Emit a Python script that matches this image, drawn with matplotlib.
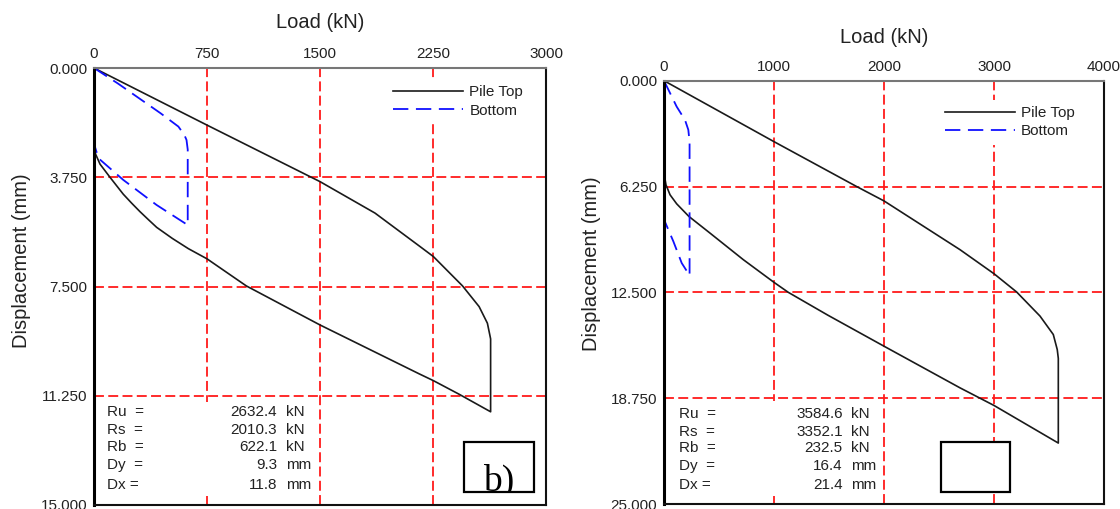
import matplotlib
matplotlib.use("Agg")
import matplotlib.pyplot as plt
from matplotlib.patches import Rectangle

plt.rcParams['font.family'] = ['Liberation Sans', 'DejaVu Sans']

# ---------------- data: panel b (left) ----------------
L_xticks = [0, 750, 1500, 2250, 3000]
L_yticks = [0.0, 3.75, 7.5, 11.25, 15.0]
L_top_load = [0, 750, 1500, 1865, 2159, 2252, 2446, 2556, 2611, 2627, 2632.4, 2632.4,
              2424, 2252, 2159, 1500, 1011, 750, 626, 520, 416, 360, 305, 250, 194, 106, 40, 10, 0]
L_top_disp = [0, 1.96, 3.9, 4.98, 6.11, 6.47, 7.48, 8.19, 8.76, 9.16, 9.3, 11.8,
              11.2, 10.73, 10.5, 8.82, 7.48, 6.55, 6.2, 5.85, 5.47, 5.2, 4.93, 4.64, 4.33, 3.75, 3.3, 2.95, 2.6]
L_bot_load = [0, 158, 441, 560, 600, 614, 622.1, 622.1, 415, 194, 30, 0]
L_bot_disp = [0, 0.53, 1.55, 2.01, 2.3, 2.47, 2.8, 5.39, 4.7, 3.84, 3.1, 2.6]
L_names = ["Ru  =", "Rs  =", "Rb  =", "Dy  =", "Dx ="]
L_vals = ["2632.4", "2010.3", "622.1", "9.3", "11.8"]
L_units = ["kN", "kN", "kN", "mm", "mm"]

# ---------------- data: right panel ----------------
R_xticks = [0, 1000, 2000, 3000, 4000]
R_yticks = [0.0, 6.25, 12.5, 18.75, 25.0]
R_top_load = [0, 1000, 1751, 2000, 2691, 3000, 3206, 3418, 3539, 3575, 3584.6, 3584.6,
              3000, 2691, 2000, 1490, 1130, 1000, 721, 418, 227, 115, 55, 18, 0]
R_top_disp = [0, 3.6, 6.25, 7.1, 9.98, 11.4, 12.48, 13.9, 14.99, 15.88, 16.4, 21.4,
              19.18, 18.14, 15.68, 13.85, 12.5, 11.91, 10.57, 9.0, 8.02, 7.27, 6.74, 6.15, 5.46]
R_bot_load = [0, 115, 191, 221, 232.5, 232.5, 161, 85, 0]
R_bot_disp = [0, 1.53, 2.32, 2.9, 3.6, 11.5, 10.77, 9.49, 8.2]
R_names = ["Ru  =", "Rs  =", "Rb  =", "Dy  =", "Dx ="]
R_vals = ["3584.6", "3352.1", "232.5", "16.4", "21.4"]
R_units = ["kN", "kN", "kN", "mm", "mm"]

fig = plt.figure(figsize=(11.2, 5.09), dpi=100)
W, H = 1120, 509


def make_axes(left, right, top, bottom):
    return fig.add_axes([left / W, 1 - bottom / H, (right - left) / W, (bottom - top) / H])


axL = make_axes(94, 546, 68, 505)
axR = make_axes(664, 1104, 80.7, 504)

GRID_RED = '#ff1a1a'
TXT = '#222222'


def setup(ax, xticks, yticks, top, load, disp, bload, bdisp,
          names, vals, units, row_y, lab_x, val_x, unit_x, box, ylab, title_y, btext, white_top):
    ax.set_xlim(xticks[0], xticks[-1])
    ax.set_ylim(yticks[-1], yticks[0])
    ax.xaxis.tick_top()
    ax.set_xticks(xticks)
    ax.set_xticklabels([str(t) for t in xticks])
    ax.set_yticks(yticks)
    ax.set_yticklabels(["%.3f" % t for t in yticks])
    ax.tick_params(length=0, labelsize=11, pad=5, colors=TXT)
    for t in xticks[1:-1]:
        ax.axvline(t, color=GRID_RED, lw=1.3, dashes=(5.5, 2.4), zorder=1)
    for t in yticks[1:-1]:
        ax.axhline(t, color=GRID_RED, lw=1.3, dashes=(5.5, 2.4), zorder=1)
    # white area behind the results text
    ax.add_patch(Rectangle((0.006, 0.02), 0.483, white_top - 0.02, transform=ax.transAxes,
                           facecolor='white', edgecolor='none', zorder=2))
    ax.plot(load, disp, color='#1a1a1a', lw=1.2, zorder=4, label='Pile Top')
    ax.plot(bload, bdisp, color='#1010ff', lw=1.3, dashes=(8.5, 4.2), zorder=4, label='Bottom')
    for i in range(len(names)):
        ax.text(lab_x, row_y[i], names[i], transform=ax.transAxes, fontsize=11,
                ha='left', va='center', color=TXT, zorder=5)
        ax.text(val_x, row_y[i], vals[i], transform=ax.transAxes, fontsize=11,
                ha='right', va='center', color=TXT, zorder=5)
        ax.text(unit_x, row_y[i], units[i], transform=ax.transAxes, fontsize=11,
                ha='left', va='center', color=TXT, zorder=5)
    rect = Rectangle((box[0], box[1]), box[2], box[3], transform=ax.transAxes,
                     facecolor='white', edgecolor='black', lw=1.6, zorder=5)
    ax.add_patch(rect)
    if btext:
        t = ax.text(box[0] + box[2] / 2, box[1] + 0.003, btext, transform=ax.transAxes,
                    fontsize=27, family=['Liberation Serif', 'DejaVu Serif'],
                    ha='center', va='baseline', color='black', zorder=6)
        t.set_clip_on(True)
        t.set_clip_path(rect)
    leg = ax.legend(loc='upper left', bbox_to_anchor=top, borderaxespad=0,
                    fontsize=11, handlelength=4.6, handletextpad=0.4,
                    labelspacing=0.3, borderpad=0.4, frameon=True, fancybox=False)
    leg.get_frame().set_facecolor('white')
    leg.get_frame().set_edgecolor('none')
    leg.get_frame().set_alpha(1)
    leg.set_zorder(6)
    for tx in leg.get_texts():
        tx.set_color(TXT)
    ax.text(0.5, title_y, 'Load (kN)', transform=ax.transAxes, fontsize=14.5,
            ha='center', va='center', color=TXT)
    ax.set_ylabel('Displacement (mm)', fontsize=14.5, color=TXT)
    ax.yaxis.set_label_coords(ylab[0], ylab[1])
    for s in ['bottom', 'right']:
        ax.spines[s].set_color('#111111')
        ax.spines[s].set_linewidth(1.5)
    ax.spines['top'].set_color('#777777')
    ax.spines['top'].set_linewidth(1.5)
    ax.spines['left'].set_color('black')
    ax.spines['left'].set_linewidth(2.2)
    for s in ax.spines.values():
        s.set_zorder(7)


setup(axL, L_xticks, L_yticks, (0.648, 0.975), L_top_load, L_top_disp, L_bot_load, L_bot_disp,
      L_names, L_vals, L_units, [0.213, 0.172, 0.133, 0.092, 0.046], 0.029, 0.405, 0.425,
      (0.819, 0.030, 0.154, 0.114), (-0.139, 0.56), 1.105, 'b)', 0.235)
setup(axR, R_xticks, R_yticks, (0.624, 0.955), R_top_load, R_top_disp, R_bot_load, R_bot_disp,
      R_names, R_vals, R_units, [0.212, 0.170, 0.132, 0.090, 0.045], 0.034, 0.406, 0.426,
      (0.630, 0.028, 0.157, 0.118), (-0.143, 0.567), 1.101, '', 0.243)

fig.savefig('out.png', dpi=100)
